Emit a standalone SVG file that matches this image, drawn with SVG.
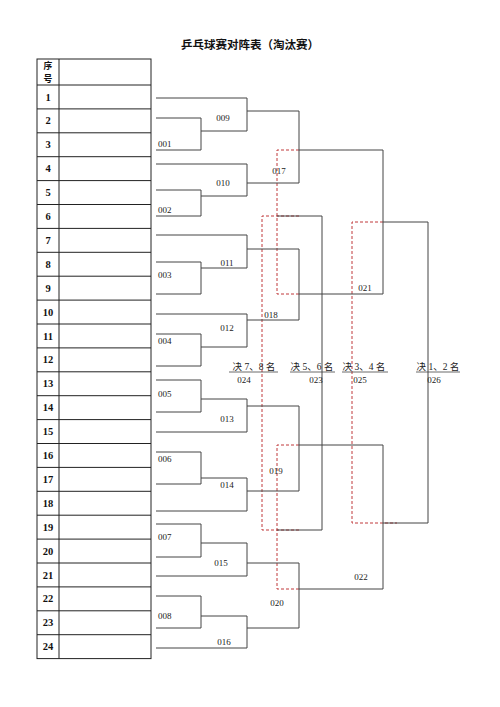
<svg xmlns="http://www.w3.org/2000/svg" width="500" height="707" viewBox="0 0 500 707">
<style>
.bg{fill:#fff}
.tb{fill:none;stroke:#222;stroke-width:1}
.num{font-family:"Liberation Serif","Noto Sans CJK SC",serif;font-weight:bold;font-size:10.5px;fill:#111;text-anchor:middle}
.hd{font-family:"Noto Sans CJK SC",sans-serif;font-weight:bold;font-size:8.8px;fill:#111;text-anchor:middle}
.ttl{font-family:"Noto Sans CJK SC",sans-serif;font-weight:bold;font-size:11.5px;fill:#111;text-anchor:middle}
.ln{fill:none;stroke:#444;stroke-width:1}
.rd{fill:none;stroke:#c0393b;stroke-width:1;stroke-dasharray:3,2}
.lb{font-family:"Liberation Serif",serif;font-size:9px;fill:#222}
.lc{font-family:"Liberation Serif",serif;font-size:9px;fill:#222;text-anchor:middle}
.fn{font-family:"Liberation Serif","Noto Sans CJK SC",serif;font-size:9.5px;fill:#222;text-anchor:middle}
.ul{stroke:#444;stroke-width:0.8}
</style>
<rect class="bg" x="0" y="0" width="500" height="707"/>
<text class="ttl" x="250" y="49">乒乓球赛对阵表（淘汰赛）</text>
<g id="table">
<rect class="tb" x="37" y="59" width="114" height="599.6"/>
<line class="tb" x1="59" y1="59" x2="59" y2="658.6"/>
<path class="tb" d="M37,85H151M37,108.9H151M37,132.8H151M37,156.7H151M37,180.6H151M37,204.5H151M37,228.4H151M37,252.3H151M37,276.2H151M37,300.1H151M37,324H151M37,347.9H151M37,371.8H151M37,395.7H151M37,419.6H151M37,443.5H151M37,467.4H151M37,491.3H151M37,515.2H151M37,539.1H151M37,563H151M37,586.9H151M37,610.8H151M37,634.7H151"/>
<text class="hd" x="48" y="68.5">序</text>
<text class="hd" x="48" y="81.5">号</text>
<text class="num" x="48" y="100.5">1</text>
<text class="num" x="48" y="124.4">2</text>
<text class="num" x="48" y="148.3">3</text>
<text class="num" x="48" y="172.2">4</text>
<text class="num" x="48" y="196.1">5</text>
<text class="num" x="48" y="220">6</text>
<text class="num" x="48" y="243.9">7</text>
<text class="num" x="48" y="267.8">8</text>
<text class="num" x="48" y="291.7">9</text>
<text class="num" x="48" y="315.6">10</text>
<text class="num" x="48" y="339.5">11</text>
<text class="num" x="48" y="363.4">12</text>
<text class="num" x="48" y="387.3">13</text>
<text class="num" x="48" y="411.2">14</text>
<text class="num" x="48" y="435.1">15</text>
<text class="num" x="48" y="459">16</text>
<text class="num" x="48" y="482.9">17</text>
<text class="num" x="48" y="506.8">18</text>
<text class="num" x="48" y="530.7">19</text>
<text class="num" x="48" y="554.6">20</text>
<text class="num" x="48" y="578.5">21</text>
<text class="num" x="48" y="602.4">22</text>
<text class="num" x="48" y="626.3">23</text>
<text class="num" x="48" y="650.2">24</text>
</g>
<g id="connectors">
<path class="rd" d="M299,150H277V294H299"/>
<path class="rd" d="M299,216H262V530H299"/>
<path class="rd" d="M299,445H277V589H299"/>
<path class="rd" d="M383,222H352V523H397"/>
<path class="ln" d="M156,98H247M156,118H201V150H156M201,131H247M247,98V131M247,111H299"/>
<path class="ln" d="M156,164H247M156,190H201V216H156M201,196H247M247,164V196M247,183H299"/>
<path class="ln" d="M299,111V183M299,150H383"/>
<path class="ln" d="M156,235H247M156,262H201V294H156M201,268H247M247,235V268M247,249H299"/>
<path class="ln" d="M156,314H247M156,334H201V366H156M201,347H247M247,314V347M247,320H299"/>
<path class="ln" d="M299,249V320M299,294H383"/>
<path class="ln" d="M383,150V294M383,222H428"/>
<path class="ln" d="M156,380H201V412H156M201,399H247M156,432H247M247,399V432M247,406H299"/>
<path class="ln" d="M156,452H201V484H156M201,478H247M156,511H247M247,478V511M247,491H299"/>
<path class="ln" d="M299,406V491M299,445H383"/>
<path class="ln" d="M156,524H201V557H156M201,543H247M156,576H247M247,543V576M247,563H299"/>
<path class="ln" d="M156,596H201V628H156M201,616H247M156,648H247M247,616V648M247,628H299"/>
<path class="ln" d="M299,563V628M299,589H383"/>
<path class="ln" d="M383,445V589M383,523H428"/>
<path class="ln" d="M428,222V523"/>
<path class="ln" d="M277,216H322V530H277"/>
</g>
<g id="m001"><text class="lb" x="158" y="147">001</text></g>
<g id="m002"><text class="lb" x="158" y="213">002</text></g>
<g id="m003"><text class="lb" x="158" y="278">003</text></g>
<g id="m004"><text class="lb" x="158" y="344">004</text></g>
<g id="m005"><text class="lb" x="158" y="397">005</text></g>
<g id="m006"><text class="lb" x="158" y="462">006</text></g>
<g id="m007"><text class="lb" x="158" y="540">007</text></g>
<g id="m008"><text class="lb" x="158" y="619">008</text></g>
<g id="m009"><text class="lc" x="223" y="121">009</text></g>
<g id="m010"><text class="lc" x="223" y="186">010</text></g>
<g id="m011"><text class="lc" x="227" y="266">011</text></g>
<g id="m012"><text class="lc" x="227" y="331">012</text></g>
<g id="m013"><text class="lc" x="227" y="422">013</text></g>
<g id="m014"><text class="lc" x="227" y="488">014</text></g>
<g id="m015"><text class="lc" x="221" y="566">015</text></g>
<g id="m016"><text class="lc" x="224" y="645">016</text></g>
<g id="m017"><text class="lc" x="279" y="174">017</text></g>
<g id="m018"><text class="lc" x="271" y="318">018</text></g>
<g id="m019"><text class="lc" x="276" y="474">019</text></g>
<g id="m020"><text class="lc" x="277" y="606">020</text></g>
<g id="m021"><text class="lc" x="365" y="291">021</text></g>
<g id="m022"><text class="lc" x="361" y="580">022</text></g>
<g id="m024"><text class="fn" x="254" y="370">决 7、8 名</text><line class="ul" x1="229" y1="372" x2="278" y2="372"/><text class="lc" x="244" y="383">024</text></g>
<g id="m023"><text class="fn" x="312" y="370">决 5、6 名</text><line class="ul" x1="290" y1="372" x2="335" y2="372"/><text class="lc" x="316" y="383">023</text></g>
<g id="m025"><text class="fn" x="364" y="370">决 3、4 名</text><line class="ul" x1="342" y1="372" x2="388" y2="372"/><text class="lc" x="360" y="383">025</text></g>
<g id="m026"><text class="fn" x="438" y="370">决 1、2 名</text><line class="ul" x1="416" y1="372" x2="460" y2="372"/><text class="lc" x="434" y="383">026</text></g>
</svg>
